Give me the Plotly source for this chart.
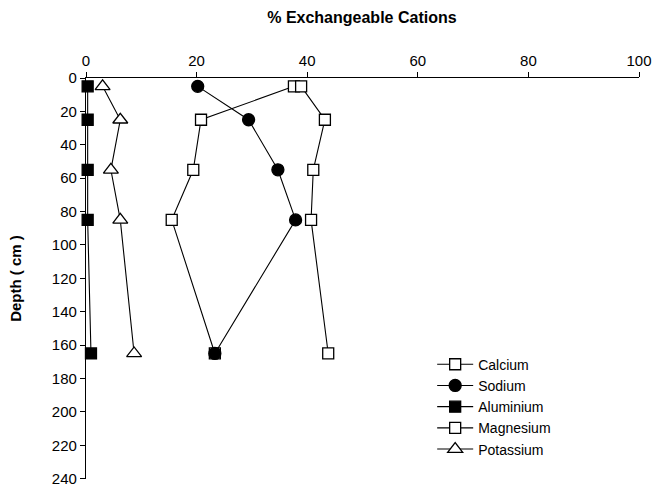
import plotly.graph_objects as go

# Soil profile: exchangeable cation percentages by depth
depth = [5, 25, 55, 85, 165]
calcium = [37.6, 20.8, 19.4, 15.5, 23.3]
sodium = [20.2, 29.4, 34.7, 37.9, 23.3]
aluminium = [0.3, 0.3, 0.3, 0.3, 0.9]
magnesium = [38.9, 43.2, 41.1, 40.7, 43.8]
potassium = [3.0, 6.2, 4.5, 6.2, 8.7]

x_ticks = [0, 20, 40, 60, 80, 100]
y_ticks = list(range(0, 241, 20))

FONT = "Liberation Sans, Arial, sans-serif"

series = [
    ("Calcium", calcium, "square", "white", 11),
    ("Sodium", sodium, "circle", "black", 12),
    ("Aluminium", aluminium, "square", "black", 11),
    ("Magnesium", magnesium, "square", "white", 11),
    ("Potassium", potassium, "triangle-up", "white", 13),
]

fig = go.Figure()
for name, vals, sym, fill, size in series:
    fig.add_trace(go.Scatter(
        x=vals, y=depth, name=name, mode="lines+markers",
        line=dict(color="black", width=1.1),
        marker=dict(symbol=sym, size=size, color=fill,
                    line=dict(color="black", width=1.3)),
        cliponaxis=False,
    ))

fig.update_layout(
    width=658, height=487,
    margin=dict(l=86, r=19, t=78, b=8),
    paper_bgcolor="white", plot_bgcolor="white",
    font=dict(family=FONT, size=15, color="black"),
    title=dict(text="<b>% Exchangeable Cations</b>", x=0.55, xanchor="center",
               y=0.965, yanchor="middle", font=dict(size=16)),
    showlegend=True,
    legend=dict(x=0.626, xanchor="left", y=0.325, yanchor="top",
                bgcolor="rgba(0,0,0,0)", font=dict(size=14),
                tracegroupgap=0, itemwidth=36),
)

fig.update_xaxes(
    side="top", range=[0, 100], tickvals=x_ticks,
    showgrid=False, zeroline=False, showline=True, linecolor="black",
    linewidth=1.3, ticks="outside", ticklen=5, tickcolor="black",
    tickfont=dict(size=15), automargin=False,
)
fig.update_yaxes(
    range=[240.2, 0], tickvals=y_ticks,
    showgrid=False, zeroline=False, showline=True, linecolor="black",
    linewidth=1.3, ticks="outside", ticklen=5, tickcolor="black",
    tickfont=dict(size=15), automargin="left",
    title=dict(text="<b>Depth ( cm )</b>", font=dict(size=15), standoff=26),
)

fig.write_html("out.html")
